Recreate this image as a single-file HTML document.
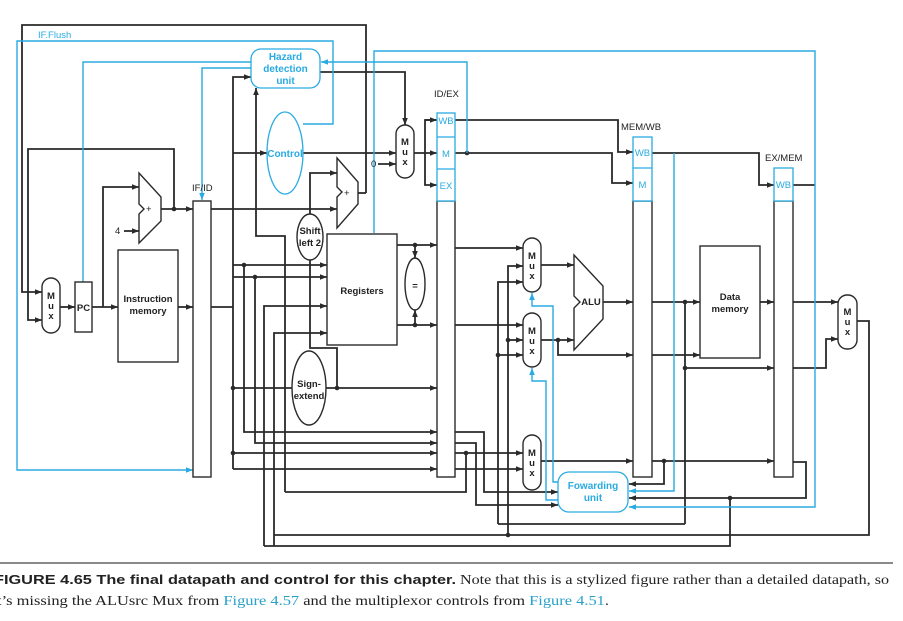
<!DOCTYPE html>
<html><head><meta charset="utf-8"><style>
html,body{margin:0;padding:0;background:#fff;width:903px;height:621px;overflow:hidden}
svg{display:block}
.k{stroke:#2a2a2a;stroke-width:1.8;fill:none}
.b{stroke:#29abe2;stroke-width:1.4;fill:none}
.t{font-family:"Liberation Sans",sans-serif;font-size:9.5px;fill:#222}
.tb{font-family:"Liberation Sans",sans-serif;font-size:9.5px;font-weight:bold;fill:#222}
.bl{font-family:"Liberation Sans",sans-serif;font-size:9.5px;fill:#29abe2}
.blb{font-family:"Liberation Sans",sans-serif;font-size:10px;font-weight:bold;fill:#29abe2}
</style></head><body>
<svg width="903" height="621" viewBox="0 0 903 621" xmlns="http://www.w3.org/2000/svg">
<defs>
<marker id="a" viewBox="0 0 10 10" refX="10" refY="5" markerWidth="7" markerHeight="7" orient="auto" markerUnits="userSpaceOnUse"><path d="M0,1 L10,5 L0,9z" fill="#2a2a2a"/></marker>
<marker id="ab" viewBox="0 0 10 10" refX="10" refY="5" markerWidth="7" markerHeight="7" orient="auto" markerUnits="userSpaceOnUse"><path d="M0,1 L10,5 L0,9z" fill="#29abe2"/></marker>
</defs>
<g fill="#2a2a2a">
<circle cx="174" cy="209" r="2.3"/><circle cx="467" cy="153" r="2.3"/>
<circle cx="244" cy="265" r="2.3"/><circle cx="255" cy="277" r="2.3"/>
<circle cx="233" cy="388" r="2.3"/><circle cx="337" cy="388" r="2.3"/>
<circle cx="233" cy="453" r="2.3"/><circle cx="415" cy="245" r="2.3"/><circle cx="415" cy="325" r="2.3"/>
<circle cx="466" cy="453" r="2.3"/><circle cx="508" cy="340" r="2.3"/><circle cx="498" cy="355" r="2.3"/>
<circle cx="558" cy="340" r="2.3"/><circle cx="685" cy="302" r="2.3"/><circle cx="685" cy="368" r="2.3"/>
<circle cx="664" cy="461" r="2.3"/><circle cx="730" cy="498" r="2.3"/><circle cx="508" cy="535" r="2.3"/>
</g>
<g class="k">
<polyline points="366,193 366,25 22,25 22,292 42,292" marker-end="url(#a)"/>
<polyline points="174,209 174,149 28,149 28,320 42,320" marker-end="url(#a)"/>
<line x1="60" y1="307" x2="75" y2="307" marker-end="url(#a)"/>
<line x1="92" y1="307" x2="118" y2="307" marker-end="url(#a)"/>
<polyline points="103,307 103,187 139,187" marker-end="url(#a)"/>
<line x1="124" y1="231" x2="139" y2="231" marker-end="url(#a)"/>
<line x1="161" y1="209" x2="193" y2="209" marker-end="url(#a)"/>
<line x1="178" y1="307" x2="193" y2="307" marker-end="url(#a)"/>
<line x1="211" y1="209" x2="337" y2="209" marker-end="url(#a)"/>
<polyline points="310,214 310,173 337,173" marker-end="url(#a)"/>
<line x1="358" y1="193" x2="366" y2="193"/>
<line x1="211" y1="307" x2="233" y2="307"/>
<polyline points="233,469 233,77 251,77" marker-end="url(#a)"/>
<line x1="233" y1="153" x2="267" y2="153" marker-end="url(#a)"/>
<polyline points="285,492 285,236 256,236 256,88" marker-end="url(#a)"/>
<line x1="303" y1="153" x2="396" y2="153" marker-end="url(#a)"/>
<line x1="378" y1="164" x2="396" y2="164" marker-end="url(#a)"/>
<polyline points="320,72 405,72 405,125" marker-end="url(#a)"/>
<line x1="414" y1="153" x2="437" y2="153" marker-end="url(#a)"/>
<polyline points="437,120 425,120 425,185 437,185" marker-end="url(#a)"/>
<line x1="425" y1="120" x2="437" y2="120" marker-end="url(#a)"/>
<line x1="233" y1="265" x2="327" y2="265" marker-end="url(#a)"/>
<line x1="233" y1="277" x2="327" y2="277" marker-end="url(#a)"/>
<polyline points="264,546 264,306 327,306" marker-end="url(#a)"/>
<polyline points="274,546 274,333 327,333" marker-end="url(#a)"/>
<polyline points="244,265 244,432 437,432" marker-end="url(#a)"/>
<polyline points="255,277 255,443 437,443" marker-end="url(#a)"/>
<line x1="233" y1="453" x2="437" y2="453" marker-end="url(#a)"/>
<line x1="233" y1="469" x2="437" y2="469" marker-end="url(#a)"/>
<line x1="233" y1="388" x2="292" y2="388"/>
<line x1="326" y1="388" x2="437" y2="388" marker-end="url(#a)"/>
<polyline points="310,260 310,348 337,348 337,388"/>
<line x1="397" y1="245" x2="437" y2="245" marker-end="url(#a)"/>
<line x1="397" y1="325" x2="437" y2="325" marker-end="url(#a)"/>
<line x1="415" y1="245" x2="415" y2="258" marker-end="url(#a)"/>
<line x1="415" y1="325" x2="415" y2="310" marker-end="url(#a)"/>
<polyline points="455,120 618,120 618,152 633,152" marker-end="url(#a)"/>
<polyline points="455,153 612,153 612,183 633,183" marker-end="url(#a)"/>
<polyline points="652,153 759,153 759,185 774,185" marker-end="url(#a)"/>
<line x1="793" y1="185" x2="815" y2="185"/>
<line x1="455" y1="248" x2="523" y2="248" marker-end="url(#a)"/>
<line x1="455" y1="325" x2="523" y2="325" marker-end="url(#a)"/>
<polyline points="498,524 498,282 523,282" marker-end="url(#a)"/>
<polyline points="508,535 508,266 523,266" marker-end="url(#a)"/>
<line x1="508" y1="340" x2="523" y2="340" marker-end="url(#a)"/>
<line x1="498" y1="355" x2="523" y2="355" marker-end="url(#a)"/>
<line x1="541" y1="265" x2="574" y2="265" marker-end="url(#a)"/>
<line x1="541" y1="340" x2="574" y2="340" marker-end="url(#a)"/>
<polyline points="558,340 558,355 633,355" marker-end="url(#a)"/>
<line x1="603" y1="302" x2="633" y2="302" marker-end="url(#a)"/>
<line x1="652" y1="302" x2="700" y2="302" marker-end="url(#a)"/>
<line x1="652" y1="355" x2="700" y2="355" marker-end="url(#a)"/>
<line x1="685" y1="368" x2="774" y2="368" marker-end="url(#a)"/>
<line x1="685" y1="302" x2="685" y2="524"/>
<line x1="760" y1="302" x2="774" y2="302" marker-end="url(#a)"/>
<line x1="793" y1="302" x2="838" y2="302" marker-end="url(#a)"/>
<polyline points="793,368 826,368 826,339 838,339" marker-end="url(#a)"/>
<polyline points="857,321 869,321 869,535 274,535"/>
<line x1="498" y1="524" x2="685" y2="524"/>
<polyline points="730,498 730,546 264,546"/>
<polyline points="455,432 484,432 484,492 558,492" marker-end="url(#a)"/>
<polyline points="455,443 476,443 476,505 558,505" marker-end="url(#a)"/>
<line x1="455" y1="453" x2="523" y2="453" marker-end="url(#a)"/>
<line x1="455" y1="469" x2="523" y2="469" marker-end="url(#a)"/>
<polyline points="466,453 466,492 285,492"/>
<line x1="541" y1="461" x2="633" y2="461" marker-end="url(#a)"/>
<polyline points="652,461 774,461" marker-end="url(#a)"/>
<polyline points="664,461 664,484 629,484" marker-end="url(#a)"/>
<polyline points="793,462 806,462 806,498 629,498" marker-end="url(#a)"/>
</g>
<g class="b">
<polyline points="303,124 333,124 333,41 17,41 17,470 193,470" marker-end="url(#ab)"/>
<polyline points="251,62 83,62 83,282"/>
<polyline points="251,68 202,68 202,200" marker-end="url(#ab)"/>
<polyline points="467,153 467,62 321,62" marker-end="url(#ab)"/>
<polyline points="374,233 374,51 815,51 815,507 629,507" marker-end="url(#ab)"/>
<polyline points="674,153 674,491 629,491" marker-end="url(#ab)"/>
<polyline points="558,482 553,482 553,306 532,306 532,293" marker-end="url(#ab)"/>
<polyline points="558,500 546,500 546,381 532,381 532,368" marker-end="url(#ab)"/>
</g>
<g stroke="#2a2a2a" stroke-width="1.4" fill="#fff">
<rect x="42" y="278" width="18" height="55" rx="9"/>
<rect x="75" y="282" width="17" height="50" fill="#fff"/>
<rect x="118" y="250" width="60" height="112"/>
<polygon points="139,173 161,197 161,221 139,243 139,214 144,209 139,204"/>
<polygon points="337,158 358,182 358,204 337,228 337,197 342,192 337,187"/>
<rect x="193" y="201" width="18" height="276"/>
<rect x="327" y="234" width="70" height="111"/>
<ellipse cx="310" cy="237" rx="13" ry="23"/>
<ellipse cx="309" cy="388" rx="17" ry="37"/>
<ellipse cx="415" cy="284" rx="10" ry="26"/>
<rect x="396" y="125" width="18" height="53" rx="9"/>
<rect x="437" y="201" width="18" height="276"/>
<rect x="633" y="201" width="19" height="276"/>
<rect x="774" y="201" width="19" height="276"/>
<rect x="523" y="238" width="18" height="54" rx="9"/>
<rect x="523" y="313" width="18" height="54" rx="9"/>
<rect x="523" y="435" width="18" height="55" rx="9"/>
<polygon points="574,255 603,286 603,319 574,350 574,308 580,302 574,296"/>
<rect x="700" y="246" width="60" height="112"/>
<rect x="838" y="295" width="19" height="54" rx="9"/>
</g>
<g stroke="#29abe2" stroke-width="1.3" fill="#fff">
<ellipse cx="285" cy="153" rx="18" ry="41"/>
<rect x="251" y="49" width="69" height="39" rx="10"/>
<rect x="437" y="113" width="18" height="88"/>
<line x1="437" y1="137" x2="455" y2="137"/><line x1="437" y1="169" x2="455" y2="169"/>
<rect x="633" y="137" width="19" height="64"/>
<line x1="633" y1="168" x2="652" y2="168"/>
<rect x="774" y="168" width="19" height="33"/>
<rect x="558" y="472" width="70" height="40" rx="11"/>
</g>
<text class="bl" x="38" y="38">IF.Flush</text>
<text class="blb" x="285.5" y="60" text-anchor="middle">Hazard</text>
<text class="blb" x="285.5" y="72" text-anchor="middle">detection</text>
<text class="blb" x="285.5" y="84" text-anchor="middle">unit</text>
<text class="blb" x="285" y="157" text-anchor="middle">Control</text>
<text class="blb" x="593" y="489" text-anchor="middle">Fowarding</text>
<text class="blb" x="593" y="501" text-anchor="middle">unit</text>
<text class="bl" x="446" y="124" text-anchor="middle" font-size="9">WB</text>
<text class="bl" x="446" y="157" text-anchor="middle">M</text>
<text class="bl" x="446" y="189" text-anchor="middle">EX</text>
<text class="bl" x="642.5" y="156" text-anchor="middle" font-size="9">WB</text>
<text class="bl" x="642.5" y="188" text-anchor="middle">M</text>
<text class="bl" x="783.5" y="188" text-anchor="middle" font-size="9">WB</text>
<text class="t" x="434" y="97">ID/EX</text>
<text class="t" x="621" y="130">MEM/WB</text>
<text class="t" x="765" y="161">EX/MEM</text>
<text class="t" x="192" y="191">IF/ID</text>
<text class="t" x="115" y="234">4</text>
<text class="t" x="371" y="167">0</text>
<text class="t" x="146" y="212">+</text>
<text class="t" x="344" y="196">+</text>
<text class="tb" x="83.5" y="311" text-anchor="middle">PC</text>
<text class="tb" x="148" y="302" text-anchor="middle">Instruction</text>
<text class="tb" x="148" y="314" text-anchor="middle">memory</text>
<text class="tb" x="362" y="294" text-anchor="middle">Registers</text>
<text class="tb" x="730" y="300" text-anchor="middle">Data</text>
<text class="tb" x="730" y="312" text-anchor="middle">memory</text>
<text class="tb" x="591" y="305" text-anchor="middle">ALU</text>
<text class="tb" x="310" y="234" text-anchor="middle">Shift</text>
<text class="tb" x="310" y="246" text-anchor="middle">left 2</text>
<text class="tb" x="309" y="387" text-anchor="middle">Sign-</text>
<text class="tb" x="309" y="399" text-anchor="middle">extend</text>
<text class="tb" x="415" y="289" text-anchor="middle" font-size="13">=</text>
<g class="tb" text-anchor="middle" font-size="9">
<text x="51" y="299">M</text><text x="51" y="309">u</text><text x="51" y="319">x</text>
<text x="405" y="145">M</text><text x="405" y="155">u</text><text x="405" y="165">x</text>
<text x="532" y="259">M</text><text x="532" y="269">u</text><text x="532" y="279">x</text>
<text x="532" y="334">M</text><text x="532" y="344">u</text><text x="532" y="354">x</text>
<text x="532" y="456">M</text><text x="532" y="466">u</text><text x="532" y="476">x</text>
<text x="847.5" y="315">M</text><text x="847.5" y="325">u</text><text x="847.5" y="335">x</text>
</g>
<rect x="0" y="562" width="893" height="2" fill="#8a8a8a"/>
<text x="-6" y="584" style="font-family:'Liberation Sans',sans-serif;font-size:12.5px;font-weight:bold;fill:#222" textLength="462" lengthAdjust="spacingAndGlyphs">FIGURE 4.65   The final datapath and control for this chapter.</text>
<text x="460" y="584" style="font-family:'Liberation Serif',serif;font-size:13.5px;fill:#222" textLength="429" lengthAdjust="spacingAndGlyphs">Note that this is a stylized figure rather than a detailed datapath, so</text>
<text x="-3" y="605" style="font-family:'Liberation Serif',serif;font-size:13.5px;fill:#222" textLength="612" lengthAdjust="spacingAndGlyphs">t’s missing the ALUsrc Mux from <tspan fill="#29a0c8">Figure 4.57</tspan> and the multiplexor controls from <tspan fill="#29a0c8">Figure 4.51</tspan>.</text>
</svg>
</body></html>
